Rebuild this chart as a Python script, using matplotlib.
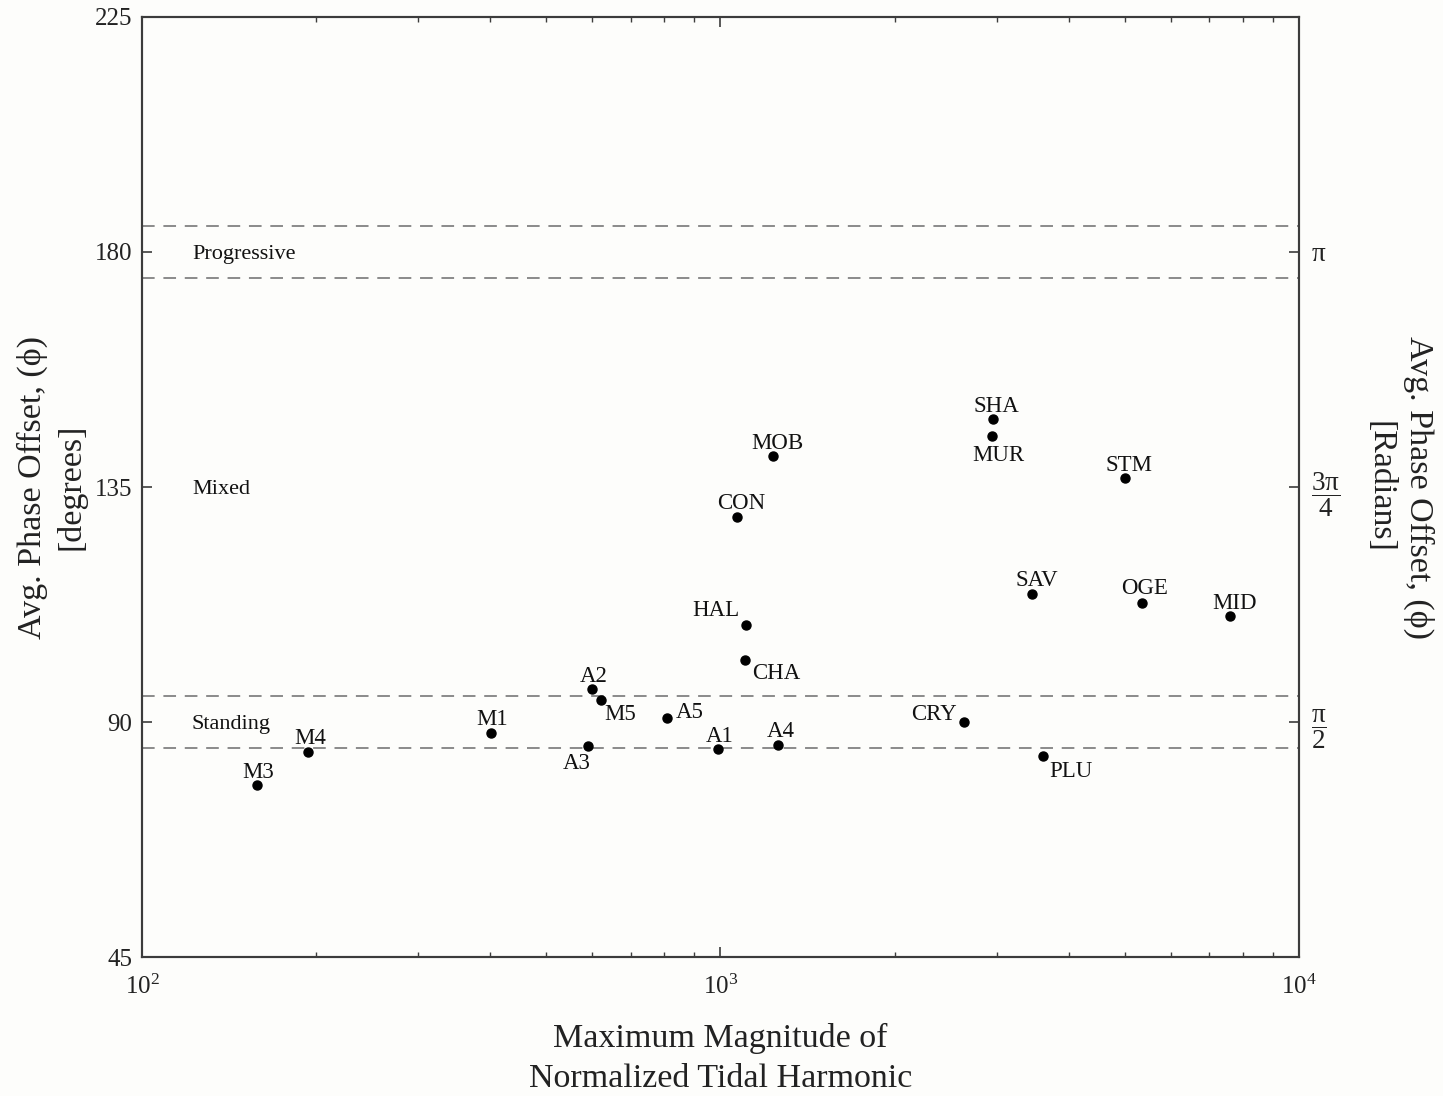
import matplotlib
matplotlib.use("Agg")
import matplotlib.pyplot as plt
from matplotlib.ticker import LogLocator, NullFormatter

plt.rcParams['font.family'] = ['Liberation Serif', 'DejaVu Serif']
plt.rcParams['mathtext.fontset'] = 'custom'
plt.rcParams['mathtext.rm'] = 'Liberation Serif'
plt.rcParams['mathtext.it'] = 'Liberation Serif'
plt.rcParams['mathtext.bf'] = 'Liberation Serif:bold'

# Stations: maximum normalized tidal harmonic magnitude vs. average phase offset (deg)
stations = ['M3', 'M4', 'M1', 'A2', 'M5', 'A3', 'A5', 'A1', 'A4', 'CHA', 'HAL',
            'CON', 'MOB', 'SHA', 'MUR', 'STM', 'SAV', 'OGE', 'MID', 'CRY', 'PLU']
magnitude = [158, 194, 401, 600, 622, 590, 808, 990, 1257, 1103, 1107,
             1068, 1232, 2958, 2946, 5003, 3455, 5354, 7598, 2635, 3611]
phase_deg = [77.9, 84.3, 87.9, 96.3, 94.2, 85.4, 90.8, 84.8, 85.6, 101.9, 108.6,
             129.3, 140.9, 148.0, 144.8, 136.7, 114.5, 112.8, 110.3, 90.0, 83.5]

# Label placement relative to each marker (pixels: right, up)
label_offsets = [(1, 14), (2, 14), (1, 14), (2, 14), (19, -13), (-11, -16), (23, 6),
                 (2, 14), (3, 14), (31, -13), (-30, 15), (4, 14), (5, 14), (3, 14),
                 (6, -19), (4, 14), (5, 15), (3, 15), (5, 14), (-30, 9), (28, -15)]

# Regime boundaries and labels
boundaries = [185, 175, 95, 85]
regimes = ['Progressive', 'Mixed', 'Standing']
regime_levels = [180, 135, 90]

deg_ticks = [45, 90, 135, 180, 225]
rad_ticks = [90, 135, 180]
rad_labels = [r'$\dfrac{π}{2}$', r'$\dfrac{3π}{4}$', 'π']

bg = '#fdfdfb'
spine_col = '#3c3c3c'
text_col = '#222222'

fig = plt.figure(figsize=(14.43, 10.96), dpi=100, facecolor=bg)
ax = fig.add_axes([0.0984, 0.1268, 0.8018, 0.8577], facecolor=bg)

ax.set_xscale('log')
ax.set_xlim(1e2, 1e4)
ax.set_ylim(45, 225)

for b in boundaries:
    ax.axhline(b, color='#8a8a8a', lw=1.4, ls=(0, (6.5, 4.5)), zorder=1)

ax.plot(magnitude, phase_deg, 'o', color='black', ms=6.5, ls='none', zorder=3)

for name, x, y, (dx, dy) in zip(stations, magnitude, phase_deg, label_offsets):
    ax.annotate(name, (x, y), xytext=(dx, dy - 1), textcoords='offset pixels',
                ha='center', va='center', fontsize=16.5, color='#111111')

for txt, lev in zip(regimes, regime_levels):
    ax.text(0.0432, lev, txt, transform=ax.get_yaxis_transform(),
            ha='left', va='center_baseline', fontsize=16, color='#111111')

ax.set_yticks(deg_ticks)
ax.xaxis.set_major_locator(LogLocator(base=10, numticks=5))
ax.xaxis.set_minor_locator(LogLocator(base=10, subs=range(2, 10), numticks=20))
ax.xaxis.set_minor_formatter(NullFormatter())
ax.tick_params(axis='both', which='both', direction='in', color=spine_col,
               labelsize=18, labelcolor=text_col)
ax.tick_params(axis='x', which='both', top=True)
ax.tick_params(axis='x', which='major', length=7, width=1.2, pad=13)
ax.tick_params(axis='x', which='minor', length=3.5, width=1.0)
ax.tick_params(axis='y', which='major', length=7, width=1.2, pad=7)

ax2 = ax.twinx()
ax2.set_ylim(45, 225)
ax2.set_yticks(rad_ticks)
ax2.set_yticklabels(rad_labels)
ax2.tick_params(axis='y', direction='in', length=7, width=1.2, color=spine_col,
                labelsize=19.5, labelcolor=text_col, pad=9)

for a in (ax, ax2):
    for s in a.spines.values():
        s.set_color(spine_col)
        s.set_linewidth(1.5)

ax.set_xlabel('Maximum Magnitude of\nNormalized Tidal Harmonic', fontsize=24.5,
              color=text_col, labelpad=17, linespacing=1.4)
ax.set_ylabel('Avg. Phase Offset, (ϕ)\n[degrees]', fontsize=24.5,
              color=text_col, labelpad=6, linespacing=1.32)
ax2.set_ylabel('Avg. Phase Offset, (ϕ)\n[Radians]', fontsize=24.5, rotation=270,
               color=text_col, labelpad=67, linespacing=1.32)

fig.savefig('out.png', dpi=100, facecolor=bg)
